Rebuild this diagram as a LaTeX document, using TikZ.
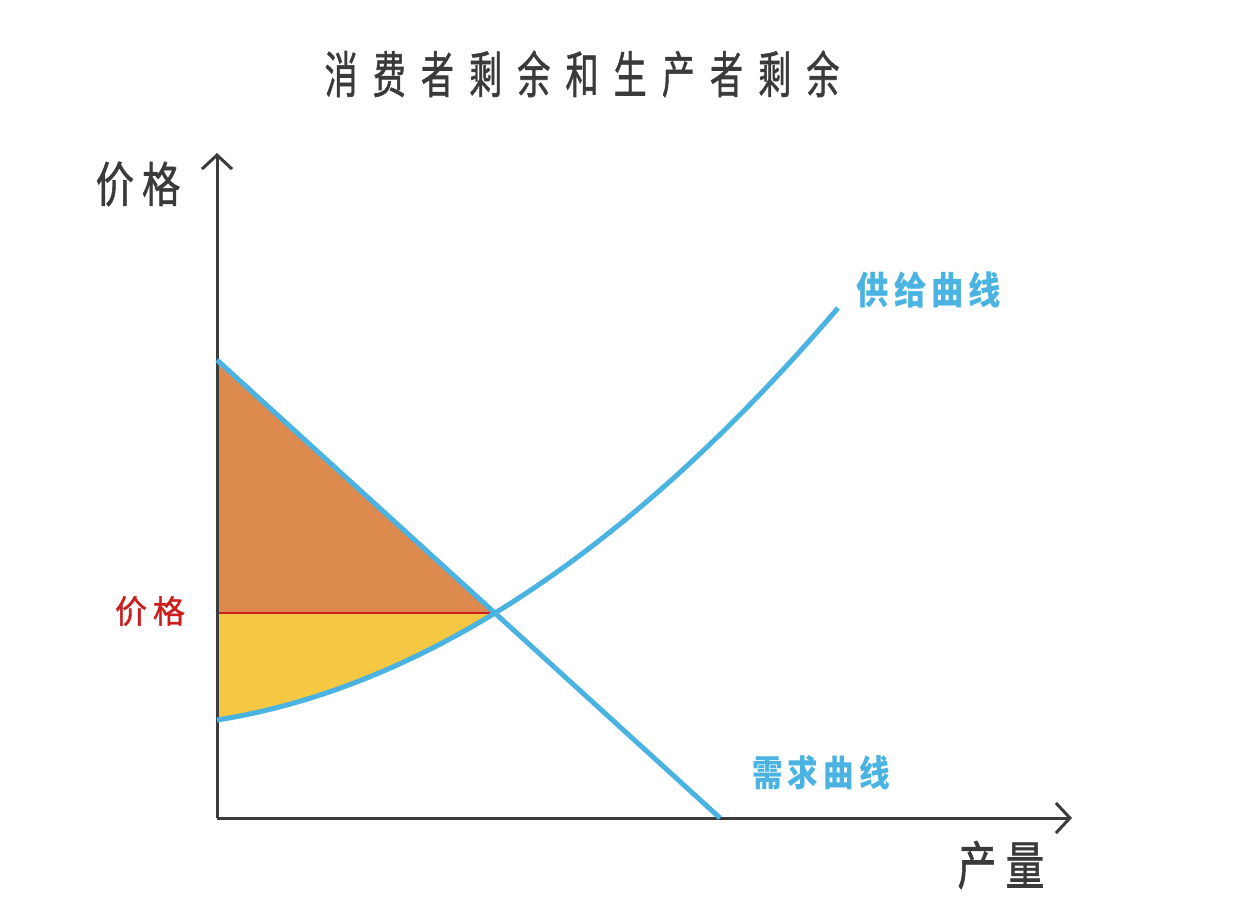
\documentclass[tikz,border=0pt]{standalone}
\usepackage{fontspec}
\setmainfont{Noto Sans CJK SC}
\newfontfamily\medfont{Noto Sans CJK SC}[FakeBold=1.2]
\usetikzlibrary{arrows.meta}
\definecolor{axisgray}{HTML}{3C3C3C}
\definecolor{txtgray}{HTML}{3A3A3A}
\definecolor{curveblue}{HTML}{4AB3E2}
\definecolor{csorange}{HTML}{DC8A4E}
\definecolor{psyellow}{HTML}{F4C843}
\definecolor{pricered}{HTML}{CC1E1E}
\tikzset{
  axisline/.style={draw=axisgray,line width=3pt,-{Straight Barb[length=14pt,width=30pt,line width=3pt]}},
  curveline/.style={draw=curveblue,line width=5pt},
  priceline/.style={draw=pricered,line width=2.5pt},
  lbl/.style={inner sep=0pt,anchor=center},
}
\begin{document}
\begin{tikzpicture}[x=1pt,y=-1pt]
\useasboundingbox (0,0) rectangle (1242,914);
\fill[white] (0,0) rectangle (1242,914);
% coordinates
\coordinate (O) at (217,818);
\coordinate (YT) at (217,153);
\coordinate (XT) at (1072,818);
\coordinate (D1) at (217,360);
\coordinate (D2) at (720,818);
\coordinate (E) at (495,613);
\coordinate (P) at (217,613);
\coordinate (S0) at (217,720);
\coordinate (S1) at (838,308);
% fills
\fill[csorange] (D1) -- (E) -- (P) -- cycle;
\fill[psyellow] (P) -- (E) .. controls (402.3,669.6) and (309.7,705.3) .. (S0) -- cycle;
% price line
\draw[priceline] (P) -- (E);
% axes
\draw[axisline] (O) -- (YT);
\draw[axisline] (O) -- (XT);
% curves
\draw[curveline] (D1) -- (D2);
\draw[curveline] (S0) .. controls (309.7,705.3) and (402.3,669.6) .. (E)
  .. controls (609.3,543.2) and (723.7,441.5) .. (S1);
% labels
\node[lbl,text=txtgray] (title) at (582,74) {\medfont\fontsize{50}{50}\selectfont\scalebox{0.66}[1]{消\hspace{23pt}费\hspace{23pt}者\hspace{23pt}剩\hspace{23pt}余\hspace{23pt}和\hspace{23pt}生\hspace{23pt}产\hspace{23pt}者\hspace{23pt}剩\hspace{23pt}余}};
\node[lbl,text=txtgray] (ylab) at (138,184) {\medfont\fontsize{48}{48}\selectfont\scalebox{0.8}[1]{价\hspace{10pt}格}};
\node[lbl,text=txtgray] (xlab) at (1001,865) {\medfont\fontsize{52}{52}\selectfont\scalebox{0.75}[1]{产\hspace{12pt}量}};
\node[lbl,text=pricered] (plab) at (150,611) {\medfont\fontsize{32}{32}\selectfont 价\hspace{6pt}格};
\node[lbl,text=curveblue] (slab) at (929,290) {\fontsize{38}{38}\selectfont\bfseries\scalebox{0.85}[1]{供\hspace{6pt}给\hspace{6pt}曲\hspace{6pt}线}};
\node[lbl,text=curveblue] (dlab) at (821,773) {\fontsize{36}{36}\selectfont\bfseries\scalebox{0.85}[1]{需\hspace{6pt}求\hspace{6pt}曲\hspace{6pt}线}};
\end{tikzpicture}
\end{document}
